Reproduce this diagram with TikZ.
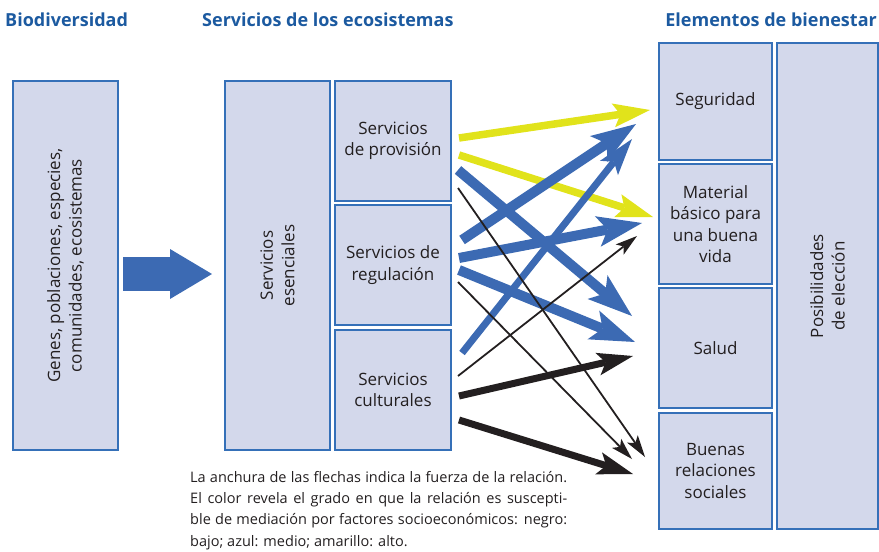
\documentclass[tikz,border=0pt]{standalone}
\usepackage{fontspec}
\setmainfont{Open Sans}
\usetikzlibrary{arrows.meta}
\definecolor{boxfill}{HTML}{D3D8EB}
\definecolor{boxborder}{HTML}{3570B8}
\definecolor{hdrblue}{HTML}{1C5AA0}
\definecolor{arrblue}{HTML}{3C6AB3}
\definecolor{arryellow}{HTML}{E1E31B}
\definecolor{arrblack}{HTML}{231F20}
\definecolor{txt}{HTML}{231F20}
\begin{document}
\begin{tikzpicture}[x=1pt,y=-1pt,
  box/.style={draw=boxborder, fill=boxfill, line width=1.3pt, inner sep=0pt, align=center, text=txt, font=\fontsize{17}{21.5}\selectfont},
  hdr/.style={text=hdrblue, font=\fontsize{18}{22}\selectfont\bfseries, inner sep=0pt},
  bigarrow/.style={draw=arrblue, line width=34pt, -{Triangle[length=42pt,width=50pt,line width=0pt]}},
  yarr/.style={draw=arryellow, line width=7.5pt, -{Stealth[length=37pt,width=24pt,inset=7pt,line width=0pt]}},
  barr/.style={draw=arrblue, line width=10pt, -{Stealth[length=45pt,width=31pt,inset=10pt,line width=0pt]}},
  barrm/.style={draw=arrblue, line width=7pt, -{Stealth[length=37pt,width=23pt,inset=8pt,line width=0pt]}},
  karr/.style={draw=arrblack, line width=7pt, -{Stealth[length=36pt,width=23pt,inset=8pt,line width=0pt]}},
  kthin/.style={draw=arrblack, line width=1.8pt, -{Stealth[length=22pt,width=13pt,inset=5pt,line width=0pt]}}
]
\useasboundingbox (0,0) rectangle (879,552);

% headers
\node[hdr, anchor=west] (h1) at (5,20) {Biodiversidad};
\node[hdr, anchor=west] (h2) at (202,20) {Servicios de los ecosistemas};
\node[hdr, anchor=east] (h3) at (877,20) {Elementos de bienestar};

% left boxes
\node[box, rotate=90, minimum width=369pt, minimum height=105pt] (bio) at (65.5,265.5) {Genes, poblaciones, especies,\\comunidades, ecosistemas};
\node[box, rotate=90, minimum width=369pt, minimum height=105pt] (ess) at (277.5,265.5) {Servicios\\esenciales};
\node[box, minimum width=116pt, minimum height=120pt] (prov) at (393,141) {Servicios\\de provisión};
\node[box, minimum width=116pt, minimum height=120pt] (reg) at (393,265) {Servicios de\\regulación};
\node[box, minimum width=116pt, minimum height=120pt] (cult) at (393,390) {Servicios\\culturales};

% right boxes
\node[box, minimum width=113pt, minimum height=117pt] (seg) at (715.5,101.5) {Seguridad};
\node[box, minimum width=113pt, minimum height=120pt] (mat) at (715.5,224) {Material\\básico para\\una buena\\vida};
\node[box, minimum width=113pt, minimum height=120pt] (sal) at (715.5,348) {Salud};
\node[box, minimum width=113pt, minimum height=116pt] (rel) at (715.5,471) {Buenas\\relaciones\\sociales};
\node[box, rotate=90, minimum width=486pt, minimum height=101pt] (pos) at (827.5,286) {Posibilidades\\de elección};

% big arrow
\coordinate (bigS) at (123,274);
\coordinate (bigE) at (212,274);
\draw[bigarrow] (bigS) -- (bigE);

% arrow end points
\coordinate (y1s) at (459,138); \coordinate (y1e) at (650,110);
\coordinate (y2s) at (459,155); \coordinate (y2e) at (653,217);
\coordinate (b1s) at (462,240); \coordinate (b1e) at (636,124);
\coordinate (b2s) at (462,353); \coordinate (b2e) at (632,139);
\coordinate (b3s) at (458,170); \coordinate (b3e) at (632,316);
\coordinate (b4s) at (459,258); \coordinate (b4e) at (642,223);
\coordinate (b5s) at (459,270); \coordinate (b5e) at (635,342);
\coordinate (k1s) at (458,188); \coordinate (k1e) at (645,457);
\coordinate (k2s) at (458,282); \coordinate (k2e) at (632,459);
\coordinate (k3s) at (458,376); \coordinate (k3e) at (637,236);
\coordinate (k4s) at (459,396); \coordinate (k4e) at (633,356);
\coordinate (k5s) at (459,420); \coordinate (k5e) at (633,474);

\draw[yarr] (y1s) -- (y1e);
\draw[yarr] (y2s) -- (y2e);
\draw[barr] (b3s) -- (b3e);
\draw[barr] (b1s) -- (b1e);
\draw[barrm] (b2s) -- (b2e);
\draw[barr] (b4s) -- (b4e);
\draw[barr] (b5s) -- (b5e);
\draw[kthin] (k1s) -- (k1e);
\draw[kthin] (k2s) -- (k2e);
\draw[kthin] (k3s) -- (k3e);
\draw[karr] (k4s) -- (k4e);
\draw[karr] (k5s) -- (k5e);

% note
\node[anchor=north west, text width=377pt, align=justify, inner sep=0pt, text=txt, font=\fontsize{14.5}{21.3}\selectfont] (note) at (190,471) {La anchura de las flechas indica la fuerza de la relación.\linebreak El color revela el grado en que la relación es suscepti-\linebreak ble de mediación por factores socioeconómicos: negro:\linebreak bajo; azul: medio; amarillo: alto.};
\end{tikzpicture}
\end{document}
